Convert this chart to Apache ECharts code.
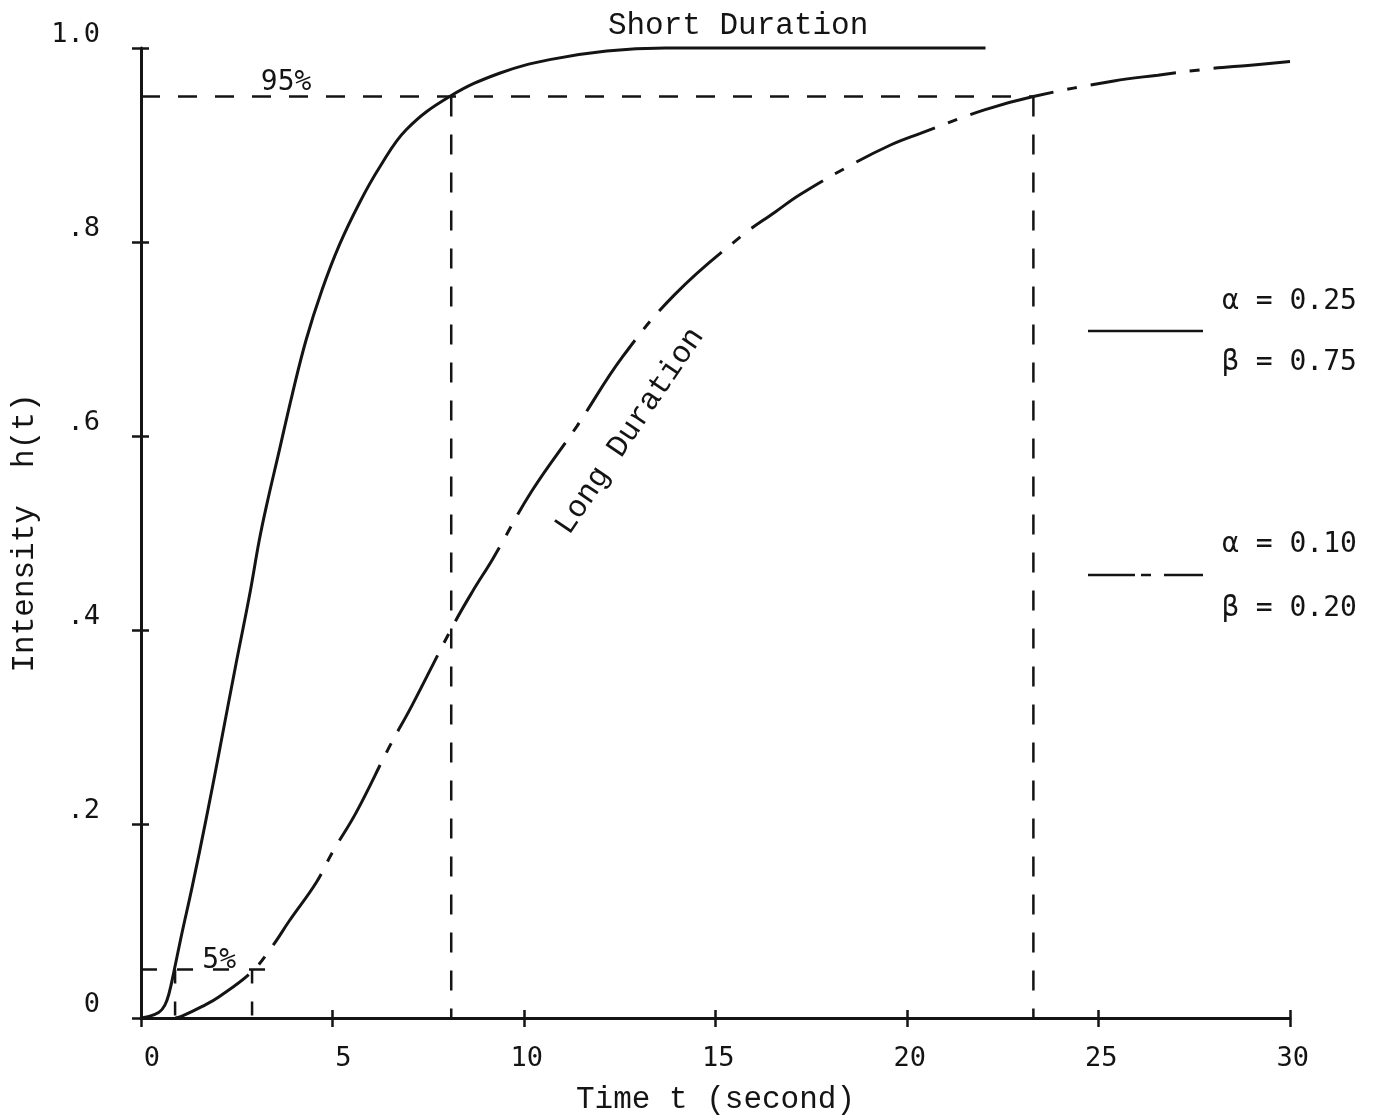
<!DOCTYPE html>
<html>
<head>
<meta charset="utf-8">
<title>Intensity h(t)</title>
<script src="https://cdn.jsdelivr.net/npm/echarts@6/dist/echarts.min.js"></script>
<style>
  html, body { margin: 0; padding: 0; background: #ffffff; }
  #chart { width: 1383px; height: 1120px; }
</style>
</head>
<body>
<div id="chart"></div>
<script>
// Short duration curve (alpha = 0.25, beta = 0.75)
const shortT = [0, 0.15, 0.47, 0.62, 0.73, 0.86, 1.05, 1.34, 1.70, 2.04, 2.48, 2.83, 3.09, 3.27, 3.61, 3.95, 4.31, 4.73, 5.18, 5.70, 6.23, 6.93, 8.06, 9.36, 10.67, 12.16, 13.7, 22.05];
const shortH = [0, 0.001, 0.006, 0.013, 0.025, 0.048, 0.084, 0.136, 0.205, 0.274, 0.365, 0.435, 0.493, 0.527, 0.585, 0.643, 0.699, 0.751, 0.797, 0.840, 0.877, 0.916, 0.950, 0.974, 0.988, 0.997, 1.0, 1.0];

// Long duration curve (alpha = 0.10, beta = 0.20)
const longT = [0.9, 1.07, 1.6, 2.04, 2.9, 3.43, 3.87, 4.58, 5.0, 5.62, 6.49, 7.06, 8.14, 8.66, 9.18, 10.2, 11.38, 12.58, 13.94, 15.64, 16.56, 17.21, 18.52, 19.57, 20.35, 22.0, 23.3, 25.4, 26.55, 28.0, 28.9, 30.0];
const longH = [0, 0.002, 0.012, 0.022, 0.048, 0.074, 0.100, 0.140, 0.171, 0.212, 0.280, 0.321, 0.404, 0.440, 0.473, 0.543, 0.610, 0.682, 0.746, 0.805, 0.831, 0.849, 0.879, 0.900, 0.912, 0.936, 0.950, 0.966, 0.972, 0.979, 0.982, 0.986];

// Threshold levels and the times at which each curve reaches them
const upperLevel = 0.95;
const lowerLevel = 0.05;
const upperTimes = [8.1, 23.3];   // short, long
const lowerTimes = [0.89, 2.9];   // short, long
const lowerGuideEnd = 3.4;

// Tick labels
const xTickLabels = ['0', '5', '10', '15', '20', '25', '30'];
const yTickLabels = ['0', '.2', '.4', '.6', '.8', '1.0'];

// Curve captions
const captionText = ['Short Duration', 'Long Duration', '95%', '5%'];
const captionT = [15.59, 12.76, 3.79, 2.04];
const captionH = [1.023, 0.605, 0.964, 0.0587];

// Legend entries
const legendAlpha = ['\u03b1 = 0.25', '\u03b1 = 0.10'];
const legendBeta = ['\u03b2 = 0.75', '\u03b2 = 0.20'];

const INK = '#141414';
const SERIF_MONO = '"Liberation Mono", "DejaVu Sans Mono", monospace';
const SANS_MONO = '"DejaVu Sans Mono", "Liberation Mono", monospace';

const zip = (a, b) => a.map((v, i) => [v, b[i]]);

function guide(points, dash) {
  return {
    type: 'line',
    data: points,
    symbol: 'none',
    silent: true,
    clip: false,
    z: 1,
    lineStyle: { color: INK, width: 2.5, type: dash }
  };
}

const series = [
  // 95% guides
  guide([[0, upperLevel], [upperTimes[1], upperLevel]], [19, 18]),
  guide([[upperTimes[0], upperLevel], [upperTimes[0], 0]], [20, 18]),
  guide([[upperTimes[1], upperLevel], [upperTimes[1], 0]], [20, 18]),
  // 5% guides
  guide([[0, lowerLevel], [lowerGuideEnd, lowerLevel]], [16, 20]),
  guide([[lowerTimes[0], lowerLevel], [lowerTimes[0], 0]], [14, 18]),
  guide([[lowerTimes[1], lowerLevel], [lowerTimes[1], 0]], [14, 18]),
  {
    name: 'short',
    type: 'line',
    data: zip(shortT, shortH),
    symbol: 'none',
    smooth: 0.4,
    clip: false,
    z: 3,
    lineStyle: { color: INK, width: 3 }
  },
  {
    name: 'long',
    type: 'line',
    data: zip(longT, longH),
    symbol: 'none',
    smooth: 0.4,
    clip: false,
    z: 3,
    lineStyle: { color: INK, width: 3, type: [86, 14, 10, 14] }
  },
  {
    name: 'captions',
    type: 'scatter',
    symbolSize: 0,
    silent: true,
    clip: false,
    z: 4,
    itemStyle: { opacity: 1 },
    data: captionText.map((txt, i) => ({
      value: [captionT[i], captionH[i]],
      label: {
        show: true,
        position: 'inside',
        formatter: txt,
        rotate: i === 1 ? 56 : 0,
        color: INK,
        opacity: 1,
        fontFamily: i < 2 ? SERIF_MONO : SANS_MONO,
        fontSize: i < 2 ? 31 : 28
      }
    }))
  }
];

const xBase = {
  type: 'value', min: 0, max: 30, interval: 5,
  position: 'bottom', gridIndex: 0,
  splitLine: { show: false }
};
const yBase = {
  type: 'value', min: 0, max: 1, interval: 0.2,
  position: 'left', gridIndex: 0,
  splitLine: { show: false }
};

const option = {
  animation: false,
  backgroundColor: '#ffffff',
  grid: { left: 141, right: 93, top: 48, bottom: 101, containLabel: false },
  xAxis: [
    Object.assign({}, xBase, {
      name: 'Time t (second)',
      nameLocation: 'middle',
      nameGap: 66,
      nameTextStyle: { color: INK, fontFamily: SERIF_MONO, fontSize: 31 },
      axisLine: { show: true, lineStyle: { color: INK, width: 3 } },
      axisTick: { show: true, inside: false, length: 9, lineStyle: { color: INK, width: 2.5 } },
      axisLabel: {
        show: true,
        margin: 27,
        showMinLabel: true,
        showMaxLabel: true,
        formatter: v => '{n|' + xTickLabels[Math.round(v / 5)] + '}',
        rich: { n: { width: 38, align: 'right', color: INK, fontFamily: SANS_MONO, fontSize: 27 } }
      }
    }),
    Object.assign({}, xBase, {
      axisLine: { show: false },
      axisTick: { show: true, inside: true, length: 8, lineStyle: { color: INK, width: 2.5 } },
      axisLabel: { show: false }
    })
  ],
  yAxis: [
    Object.assign({}, yBase, {
      name: 'Intensity  h(t)',
      nameLocation: 'middle',
      nameGap: 98,
      nameRotate: 90,
      nameTextStyle: { color: INK, fontFamily: SERIF_MONO, fontSize: 31 },
      axisLine: { show: true, lineStyle: { color: INK, width: 3 } },
      axisTick: { show: true, inside: false, length: 9, lineStyle: { color: INK, width: 2.5 } },
      axisLabel: {
        show: true,
        margin: 41,
        verticalAlign: 'bottom',
        showMinLabel: true,
        showMaxLabel: true,
        color: INK,
        fontFamily: SANS_MONO,
        fontSize: 27,
        formatter: v => yTickLabels[Math.round(v / 0.2)]
      }
    }),
    Object.assign({}, yBase, {
      axisLine: { show: false },
      axisTick: { show: true, inside: true, length: 8, lineStyle: { color: INK, width: 2.5 } },
      axisLabel: { show: false }
    })
  ],
  graphic: [
    // legend: solid curve
    { type: 'line', shape: { x1: 1088, y1: 331, x2: 1203, y2: 331 }, style: { stroke: INK, lineWidth: 2.5 } },
    { type: 'text', x: 1222, y: 302, style: { text: legendAlpha[0], font: '28px ' + SANS_MONO, fill: INK, verticalAlign: 'middle' } },
    { type: 'text', x: 1222, y: 363, style: { text: legendBeta[0], font: '28px ' + SANS_MONO, fill: INK, verticalAlign: 'middle' } },
    // legend: dash-dot curve
    { type: 'line', shape: { x1: 1088, y1: 575, x2: 1203, y2: 575 }, style: { stroke: INK, lineWidth: 2.5, lineDash: [47, 6, 10, 13] } },
    { type: 'text', x: 1222, y: 545, style: { text: legendAlpha[1], font: '28px ' + SANS_MONO, fill: INK, verticalAlign: 'middle' } },
    { type: 'text', x: 1222, y: 609, style: { text: legendBeta[1], font: '28px ' + SANS_MONO, fill: INK, verticalAlign: 'middle' } }
  ],
  series: series
};

const chart = echarts.init(document.getElementById('chart'), null, { renderer: 'canvas' });
chart.setOption(option);
</script>
</body>
</html>
